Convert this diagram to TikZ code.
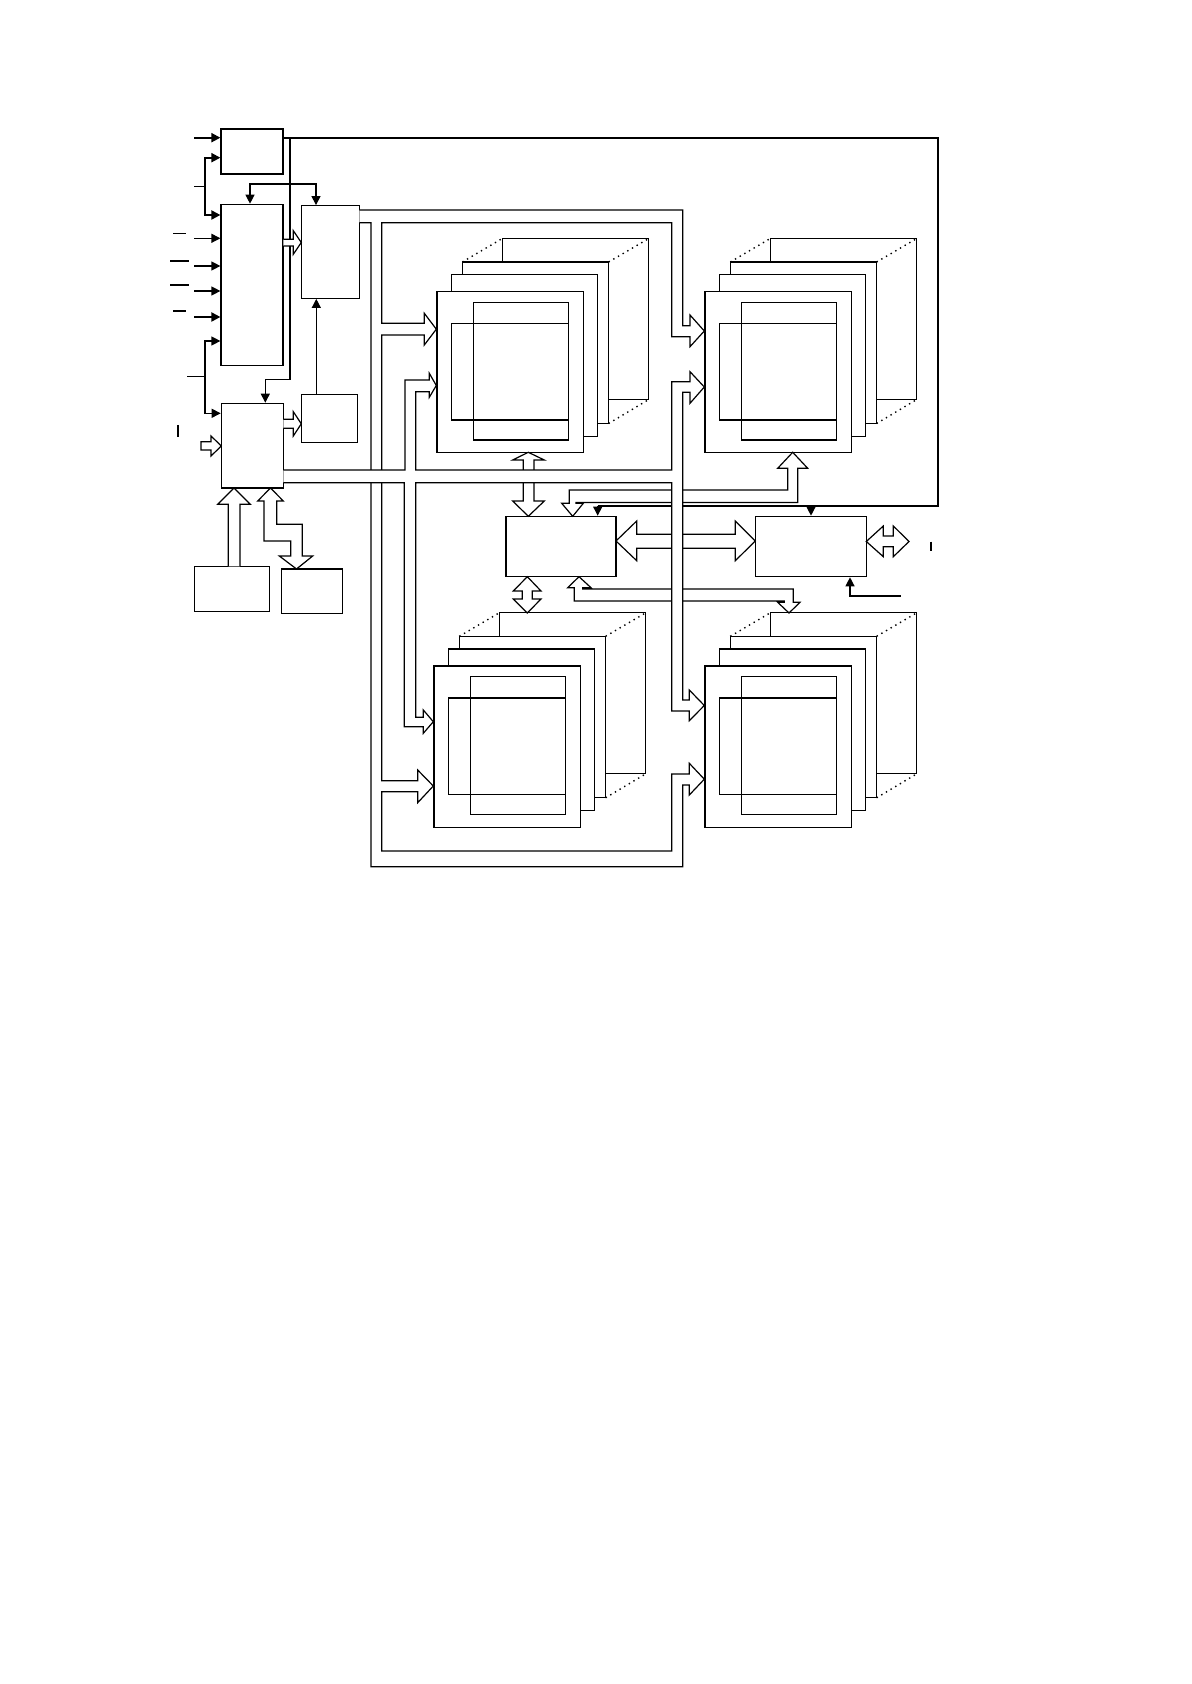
\documentclass[tikz,border=0pt]{standalone}
\usepackage{tikz}
\usetikzlibrary{arrows.meta, positioning, fit}

% one memory stack: name, x, y (front corner), y of the heavy line
\newcommand{\memstack}[4]{%
  \begin{scope}[shift={(#2,#3)}]
    \draw[layer] (66,-52.5) rectangle (212.5,108.5);
    \draw[depth] (26,-29) -- (66,-52.5) (172.3,-29) -- (212.5,-52.5)
                 (172.3,132.5) -- (212.5,108.5);
    \draw[layer] (26,-29) rectangle (172.3,132.5);
    \draw[layer] (15,-16.3) rectangle (161,145.2);
    \node[box, anchor=north west, minimum width=73.25pt,
          minimum height=80.6pt] (#1) at (0,0) {};
    \draw[wire] (37,11.5) rectangle (132,149) (15,32.3) rectangle (132,129);
    \draw[bold] (15,#4) -- (132,#4);
  \end{scope}}

\begin{document}
\begin{tikzpicture}[
  x=0.5pt, y=-0.5pt,
  box/.style={draw, fill=white, line width=0.6pt, inner sep=0pt},
  layer/.style={draw, fill=white, line width=0.6pt},
  wire/.style={line width=0.6pt},
  bold/.style={line width=1pt},
  arrow/.style={-{Triangle[length=4.5pt, width=4.5pt]}, line width=0.6pt},
  barrow/.style={arrow, line width=1pt},
  darrow/.style={{Triangle[length=4.5pt, width=4.5pt]}-{Triangle[length=4.5pt, width=4.5pt]},
                 line width=0.6pt},
  hollow/.style={draw, fill=white, line width=0.6pt},
  depth/.style={dotted, line width=0.7pt}
]
\useasboundingbox (0,0) rectangle (1191,1684);

% Left column of control boxes
\node[box, fit={(221,129) (283,174)}]       (tmr) {};
\node[box, fit={(221,204.3) (283,365.3)}]   (inp) {};
\node[box, fit={(221.3,403.3) (283.3,488)}] (seq) {};
\node[box, fit={(301.3,205.7) (359.3,298.3)}] (reg) {};
\node[box, fit={(301.3,394.3) (357.7,442.3)}] (dec) {};
\node[box, fit={(194.3,566.3) (269.3,611.3)}] (rom) {};
\node[box, fit={(281.3,569) (342.3,613.3)}]   (ram) {};

% Switch and interface in the middle
\node[box, fit={(506,516.3) (616,576.7)}]     (sw) {};
\node[box, fit={(755.3,516.3) (866.3,576.7)}] (io) {};

% Four memory stacks
\memstack{memA}{436.3}{291}{129}
\memstack{memB}{704.3}{291}{129}
\memstack{memC}{433.3}{665.3}{32.3}
\memstack{memD}{704.3}{665.3}{32.3}

% Input signals
\coordinate (a1) at (194,137.7);
\coordinate (a2) at (194,186.3);
\coordinate (a2j) at (205,186.3);
\draw[barrow] (a1) -- (a1 -| tmr.west);
\draw[wire] (a2) -- (a2j);
\draw[barrow] (a2j) |- (tmr.west |- 0,157.7);
\draw[barrow] (a2j) |- (inp.west |- 0,215);
\foreach \yy in {238.3,266,291}
  \draw[arrow] (194,\yy) -- (inp.west |- 0,\yy);
\draw[barrow] (194,317) -- (inp.west |- 0,317);
\foreach \xa/\xb/\yy in {173/186/233.3, 170/189/261, 170/189/285, 173/186/311}
  \draw[wire] (\xa,\yy) -- (\xb,\yy);
\coordinate (a3) at (187,376.7);
\coordinate (a3j) at (205,376.7);
\draw[wire] (a3) -- (a3j);
\draw[arrow] (a3j) |- (inp.west |- 0,341);
\draw[arrow] (a3j) |- (seq.west |- 0,413.3);
\draw[wire] (178,425) -- (178,436.7);
\draw[hollow] (201,441.7) -- (211,441.7) -- (211,436) -- (221.3,446)
  -- (211,456) -- (211,450) -- (201,450) -- cycle;

% Clock line round the top and right
\draw[bold] (tmr.east |- 0,137.7) -| (938,505.7) -- (597.7,505.7);
\draw[arrow] (597.7,505.7) -- (sw.north -| 597.7,0);
\draw[arrow] (811,505.7) -- (io.north -| 811,0);
\draw[arrow] (290,137.7) |- (265.3,379.3) -- (seq.north -| 265.3,0);
\draw[darrow] (inp.north -| 250,0) |- (316,184) -- (reg.north -| 316,0);
\draw[arrow] (dec.north -| 316.3,0) -- (reg.south -| 316.3,0);

% Short buses between the left boxes
\draw[hollow] (283.3,239.3) -- (293.3,239.3) -- (293.3,230.7) -- (301.3,242.5)
  -- (293.3,254.3) -- (293.3,246) -- (283.3,246);
\draw[hollow] (283.3,419.3) -- (293.3,419.3) -- (293.3,411.7) -- (301.3,423.8)
  -- (293.3,436) -- (293.3,428.3) -- (283.3,428.3);
\draw[hollow] (228.3,566.3) -- (228.3,504.3) -- (217.7,504.3) -- (234,488)
  -- (250.3,504.3) -- (240,504.3) -- (240,566.3);
\draw[hollow] (290.7,556) -- (279.3,556) -- (296.5,569) -- (312.7,556)
  -- (302.3,556) -- (302.3,524.3) -- (276.7,524.3) -- (276.7,501)
  -- (283.3,501) -- (270.5,488) -- (257.7,501) -- (264,501) -- (264,541)
  -- (290.7,541) -- cycle;

% Interface side
\draw[arrow] (900.7,596) -| (io.south -| 850,0);
\draw[wire] (931,541.7) -- (931,551);
\draw[hollow] (866.3,541.5) -- (883.3,526) -- (883.3,536) -- (893.3,536)
  -- (893.3,526) -- (909,541.5) -- (893.3,556.7) -- (893.3,546.7)
  -- (883.3,546.7) -- (883.3,556.7) -- cycle;

% Buses round the switch
\draw[hollow] (528.3,452.3) -- (544.3,460) -- (534,460) -- (534,501)
  -- (544.3,501) -- (528.3,516.3) -- (512.7,501) -- (523.3,501)
  -- (523.3,460) -- (512.7,460) -- cycle;
\draw[hollow] (527.3,576.7) -- (541,591) -- (532.3,591) -- (532.3,599)
  -- (541,599) -- (527.3,613) -- (513.3,599) -- (522.3,599)
  -- (522.3,591) -- (513.3,591) -- cycle;
\draw[hollow] (616,541) -- (636.7,521) -- (636.7,534.3) -- (735.3,534.3)
  -- (735.3,521) -- (755.3,541) -- (735.3,560.7) -- (735.3,548.3)
  -- (636.7,548.3) -- (636.7,560.7) -- cycle;
\draw[hollow] (569.3,490) -- (787.7,490) -- (787.7,468.3) -- (777.7,468.3)
  -- (792.7,452.3) -- (807.7,468.3) -- (797.7,468.3) -- (797.7,502.5)
  -- (576,502.5) -- (576,503.3) -- (583.3,503.3) -- (572.7,516.3)
  -- (561.7,503.3) -- (569.3,503.3) -- cycle;
\draw[hollow] (574.3,601) -- (784.3,601) -- (784.3,602.3) -- (777.7,602.3)
  -- (789,613) -- (800,602.3) -- (793.3,602.3) -- (793.3,589)
  -- (582.7,589) -- (582.7,587.7) -- (591,587.7) -- (579,576.7)
  -- (567.7,587.7) -- (574.3,587.7) -- cycle;

% Data bus from reg to all four stacks
\draw[hollow] (359.3,210) -- (682.7,210) -- (682.7,325.7) -- (690,325.7)
  -- (690,315) -- (704.3,331) -- (690,346.7) -- (690,336.7) -- (671.7,336.7)
  -- (671.7,222.7) -- (381.7,222.7) -- (381.7,323.3) -- (424.3,323.3)
  -- (424.3,313.3) -- (436.3,329.2) -- (424.3,345) -- (424.3,335)
  -- (381.7,335) -- (381.7,780.7) -- (417.7,780.7) -- (417.7,770)
  -- (433.3,786) -- (417.7,802.7) -- (417.7,791.7) -- (381.7,791.7)
  -- (381.7,851) -- (671.7,851) -- (671.7,774) -- (689.3,774)
  -- (689.3,763.3) -- (704.3,779.2) -- (689.3,795) -- (689.3,785)
  -- (682.7,785) -- (682.7,866.7) -- (371,866.7) -- (371,222.7)
  -- (359.3,222.7);

% Address bus from seq to all four stacks
\draw[hollow] (283.3,470) -- (405,470) -- (405,380) -- (429.3,380)
  -- (429.3,373.3) -- (436.3,385.5) -- (429.3,397.3) -- (429.3,391.7)
  -- (415.7,391.7) -- (415.7,470) -- (671.7,470) -- (671.7,381.7)
  -- (690,381.7) -- (690,371.7) -- (704.3,387) -- (690,403.3) -- (690,392.3)
  -- (682.7,392.3) -- (682.7,700) -- (689.3,700) -- (689.3,690)
  -- (704.3,705.5) -- (689.3,720.7) -- (689.3,711) -- (671.7,711)
  -- (671.7,482.7) -- (415.7,482.7) -- (415.7,717.3) -- (423.3,717.3)
  -- (423.3,710) -- (433.3,721.7) -- (423.3,733.3) -- (423.3,726.7)
  -- (404.3,726.7) -- (404.3,482.7) -- (283.3,482.7);

\end{tikzpicture}
\end{document}
